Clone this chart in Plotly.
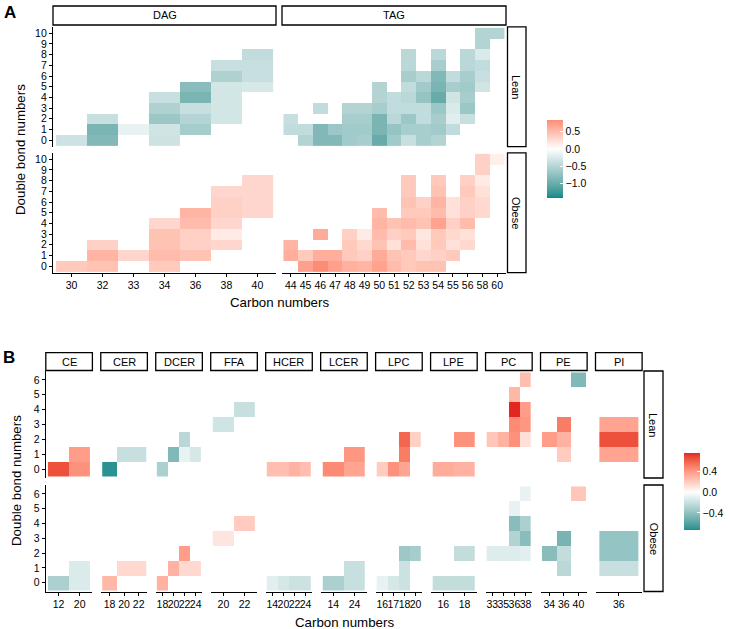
import plotly.graph_objects as go

W, H = 732, 629
FONT = "Liberation Sans, Arial, Helvetica, sans-serif"

# ---------------- Panel A data ----------------
A_FACETS = ["DAG", "TAG"]
A_ROWS = ["Lean", "Obese"]
DAG_CARBONS = [30, 32, 33, 34, 36, 38, 40]
TAG_CARBONS = [44, 45, 46, 47, 48, 49, 50, 51, 52, 53, 54, 55, 56, 58, 60]
A_DB_LEVELS = list(range(11))

dag_carbon = [30, 32, 32, 32, 33, 34, 34, 34, 34, 34, 36, 36, 36, 36, 36,
              38, 38, 38, 38, 38, 38, 40, 40, 40, 40]
dag_db = [0, 0, 1, 2, 1, 0, 1, 2, 3, 4, 1, 2, 3, 4, 5,
          2, 3, 4, 5, 6, 7, 5, 6, 7, 8]
dag_lean = [-0.34, -0.85, -0.90, -0.38, -0.15, -0.34, -0.32, -0.68, -0.55, -0.38,
            -0.61, -0.51, -0.38, -0.90, -0.80, -0.30, -0.30, -0.30, -0.30, -0.55,
            -0.38, -0.28, -0.38, -0.38, -0.42]
dag_obese = [0.40, 0.45, 0.55, 0.35, 0.30, 0.40, 0.50, 0.45, 0.45, 0.30,
             0.45, 0.35, 0.35, 0.50, 0.55, 0.30, 0.15, 0.30, 0.35, 0.35,
             0.30, 0.30, 0.30, 0.30, 0.30]

tag_carbon = [44, 44, 45, 45, 46, 46, 46, 47, 47, 48, 48, 48, 48, 49, 49, 49, 49,
              50, 50, 50, 50, 50, 50, 51, 51, 51, 51, 51,
              52, 52, 52, 52, 52, 52, 52, 52, 52,
              53, 53, 53, 53, 53, 53, 53,
              54, 54, 54, 54, 54, 54, 54, 54, 54,
              55, 55, 55, 55, 55, 55,
              56, 56, 56, 56, 56, 56, 56,
              58, 58, 58, 58, 58, 58, 60]
tag_db = [1, 2, 0, 1, 0, 1, 3, 0, 1, 0, 1, 2, 3, 0, 1, 2, 3,
          0, 1, 2, 3, 4, 5, 0, 1, 2, 3, 4,
          0, 1, 2, 3, 4, 5, 6, 7, 8,
          0, 1, 2, 3, 4, 5, 6,
          0, 1, 2, 3, 4, 5, 6, 7, 8,
          1, 2, 3, 4, 5, 6,
          2, 3, 4, 5, 6, 7, 8,
          5, 6, 7, 8, 9, 10, 10]
tag_lean = [-0.42, -0.38, -0.52, -0.42, -0.85, -0.85, -0.42, -0.85, -0.68,
            -0.64, -0.64, -0.60, -0.52, -0.60, -0.64, -0.60, -0.52,
            -1.02, -0.90, -0.90, -0.60, -0.52, -0.52,
            -0.64, -0.72, -0.47, -0.42, -0.42,
            -0.38, -0.60, -0.68, -0.42, -0.47, -0.42, -0.60, -0.47, -0.47,
            -0.60, -0.60, -0.42, -0.42, -0.72, -0.64, -0.47,
            -0.52, -0.64, -0.60, -0.68, -1.02, -0.90, -0.85, -0.60, -0.47,
            -0.42, -0.21, -0.26, -0.32, -0.60, -0.42,
            -0.38, -0.68, -0.60, -0.64, -0.60, -0.47, -0.47,
            -0.32, -0.38, -0.42, -0.26, -0.52, -0.52, -0.52]
tag_obese = [0.60, 0.55, 0.70, 0.40, 0.84, 0.60, 0.62, 0.70, 0.60,
             0.58, 0.40, 0.40, 0.35, 0.55, 0.35, 0.28, 0.15,
             0.68, 0.62, 0.45, 0.50, 0.55, 0.50,
             0.50, 0.45, 0.22, 0.35, 0.45,
             0.40, 0.40, 0.50, 0.40, 0.50, 0.40, 0.45, 0.40, 0.40,
             0.45, 0.30, 0.22, 0.18, 0.45, 0.40, 0.35,
             0.45, 0.35, 0.40, 0.40, 0.68, 0.50, 0.55, 0.45, 0.40,
             0.40, 0.22, 0.28, 0.35, 0.22, 0.22,
             0.28, 0.22, 0.50, 0.35, 0.35, 0.40, 0.35,
             0.28, 0.28, 0.22, 0.15, 0.35, 0.35, 0.12]
A_LIMITS = [-1.43, 0.84]
A_TICKS = [-1.0, -0.5, 0.0, 0.5]

# ---------------- Panel B data ----------------
B_CLASSES = ["CE", "CER", "DCER", "FFA", "HCER", "LCER", "LPC", "LPE", "PC", "PE", "PI"]
B_DB_LEVELS = list(range(7))
b_class = (["CE"] * 3 + ["CER"] * 3 + ["DCER"] * 5 + ["FFA"] * 2 + ["HCER"] * 4 +
           ["LCER"] * 3 + ["LPC"] * 6 + ["LPE"] * 3 + ["PC"] * 10 + ["PE"] * 5 + ["PI"] * 3)
b_carbon = [12, 20, 20,
            18, 20, 22,
            18, 20, 22, 22, 24,
            20, 22,
            14, 20, 22, 24,
            14, 24, 24,
            16, 17, 18, 18, 18, 20,
            16, 18, 18,
            33, 35, 36, 36, 36, 36, 38, 38, 38, 38,
            34, 36, 36, 36, 40,
            36, 36, 36]
b_db = [0, 0, 1,
        0, 1, 1,
        0, 1, 1, 2, 1,
        3, 4,
        0, 0, 0, 0,
        0, 0, 1,
        0, 0, 0, 1, 2, 2,
        0, 0, 2,
        2, 2, 2, 3, 4, 5, 2, 3, 4, 6,
        2, 1, 2, 3, 6,
        1, 2, 3]
b_lean = [0.65, 0.42, 0.38,
          -0.70, -0.20, -0.20,
          -0.30, -0.45, -0.08, -0.25, -0.15,
          -0.17, -0.20,
          0.25, 0.25, 0.30, 0.25,
          0.45, 0.35, 0.40,
          0.20, 0.42, 0.35, 0.50, 0.58, 0.18,
          0.32, 0.30, 0.42,
          0.22, 0.30, 0.42, 0.45, 0.75, 0.28, 0.12, 0.40, 0.38, 0.25,
          0.38, 0.20, 0.30, 0.50, -0.45,
          0.35, 0.65, 0.35]
b_obese = [-0.30, -0.13, -0.13,
           0.28, 0.15, 0.15,
           0.30, 0.30, 0.15, 0.38, 0.15,
           0.10, 0.20,
           -0.10, -0.15, -0.18, -0.18,
           -0.30, -0.20, -0.20,
           -0.08, -0.15, -0.18, -0.18, -0.35, -0.32,
           -0.22, -0.22, -0.22,
           -0.12, -0.12, -0.12, -0.28, -0.42, -0.08, -0.10, -0.42, -0.30, -0.08,
           -0.42, -0.25, -0.22, -0.48, 0.22,
           -0.20, -0.38, -0.38]
B_LIMITS = [-0.72, 0.75]
B_TICKS = [-0.4, 0.0, 0.4]

LOW, MID, HIGH = "#008B8B", "#FFFFFF", "#E3261F"


# ---------------- colour helpers (Lab interpolation like ggplot) ----------------
def _hex2rgb(h):
    h = h.lstrip("#")
    return [int(h[i:i + 2], 16) / 255 for i in (0, 2, 4)]


def _lin(c):
    return c / 12.92 if c <= 0.04045 else ((c + 0.055) / 1.055) ** 2.4


def _unlin(c):
    c = max(0.0, min(1.0, c))
    return 12.92 * c if c <= 0.0031308 else 1.055 * c ** (1 / 2.4) - 0.055


_WN = (0.95047, 1.0, 1.08883)


def _f(t):
    d = 6 / 29
    return t ** (1 / 3) if t > d ** 3 else t / (3 * d * d) + 4 / 29


def _finv(t):
    d = 6 / 29
    return t ** 3 if t > d else 3 * d * d * (t - 4 / 29)


def to_lab(h):
    r, g, b = [_lin(c) for c in _hex2rgb(h)]
    X = 0.4124564 * r + 0.3575761 * g + 0.1804375 * b
    Y = 0.2126729 * r + 0.7151522 * g + 0.0721750 * b
    Z = 0.0193339 * r + 0.1191920 * g + 0.9503041 * b
    fx, fy, fz = _f(X / _WN[0]), _f(Y / _WN[1]), _f(Z / _WN[2])
    return (116 * fy - 16, 500 * (fx - fy), 200 * (fy - fz))


def from_lab(L, a, b):
    fy = (L + 16) / 116
    fx = fy + a / 500
    fz = fy - b / 200
    X, Y, Z = _WN[0] * _finv(fx), _WN[1] * _finv(fy), _WN[2] * _finv(fz)
    r = 3.2404542 * X - 1.5371385 * Y - 0.4985314 * Z
    g = -0.9692660 * X + 1.8760108 * Y + 0.0415560 * Z
    bb = 0.0556434 * X - 0.2040259 * Y + 1.0572252 * Z
    return "#%02X%02X%02X" % tuple(round(_unlin(c) * 255) for c in (r, g, bb))


LAB = [to_lab(c) for c in (LOW, MID, HIGH)]


def ramp(s):
    s = max(0.0, min(1.0, s))
    if s <= 0.5:
        p, q, t = LAB[0], LAB[1], s / 0.5
    else:
        p, q, t = LAB[1], LAB[2], (s - 0.5) / 0.5
    return from_lab(*[p[i] + (q[i] - p[i]) * t for i in range(3)])


def build_scale(lims, n=61):
    lo, hi = lims
    ext = max(abs(lo), abs(hi))
    out = []
    for i in range(n):
        t = i / (n - 1)
        v = lo + t * (hi - lo)
        out.append([t, ramp(v / ext / 2 + 0.5)])
    return out


def PX(x):
    return x / W


def PY(y):
    return 1 - y / H


fig = go.Figure()
layout_axes = {}
counter = [0]


def add_panel(xcats, ycats, cx, cy, vals, xdom, ydom, cax, show_x, show_y):
    counter[0] += 1
    k = counter[0]
    xn = "x" if k == 1 else "x%d" % k
    yn = "y" if k == 1 else "y%d" % k
    xs = [str(c) for c in xcats]
    ys = [str(d) for d in ycats]
    z = [[None] * len(xs) for _ in ys]
    for c, d, v in zip(cx, cy, vals):
        z[ys.index(str(d))][xs.index(str(c))] = v
    fig.add_trace(go.Heatmap(x=xs, y=ys, z=z, coloraxis=cax, xaxis=xn, yaxis=yn,
                             hoverinfo="skip", xgap=0, ygap=0))
    tf = dict(size=10.5, color="black", family=FONT)
    layout_axes["xaxis" if k == 1 else "xaxis%d" % k] = dict(
        domain=[PX(xdom[0]), PX(xdom[1])], anchor=yn, type="category",
        categoryorder="array", categoryarray=xs, range=[-0.6, len(xs) - 0.4],
        showgrid=False, zeroline=False, showline=show_x, linecolor="black", linewidth=1.1,
        ticks="outside" if show_x else "", ticklen=3, tickwidth=1, tickcolor="black",
        showticklabels=show_x, tickmode="array", tickvals=xs, ticktext=xs, tickangle=0,
        tickfont=tf, fixedrange=True)
    layout_axes["yaxis" if k == 1 else "yaxis%d" % k] = dict(
        domain=[PY(ydom[1]), PY(ydom[0])], anchor=xn, type="category",
        categoryorder="array", categoryarray=ys, range=[-0.6, len(ys) - 0.4],
        showgrid=False, zeroline=False, showline=show_y, linecolor="black", linewidth=1.1,
        ticks="outside" if show_y else "", ticklen=3, tickwidth=1, tickcolor="black",
        showticklabels=show_y, tickmode="array", tickvals=ys, ticktext=ys, tickangle=0,
        tickfont=tf, fixedrange=True)


shapes, annots = [], []


def strip(x0, x1, y0, y1, text, angle=0):
    shapes.append(dict(type="rect", xref="paper", yref="paper", x0=PX(x0), x1=PX(x1),
                       y0=PY(y1), y1=PY(y0), line=dict(color="black", width=1.3),
                       fillcolor="white"))
    annots.append(dict(x=PX((x0 + x1) / 2), y=PY((y0 + y1) / 2), xref="paper", yref="paper",
                       text=text, showarrow=False, textangle=angle,
                       font=dict(size=11, color="black", family=FONT),
                       xanchor="center", yanchor="middle"))


# ---------------- Panel A ----------------
A_XDOM = {"DAG": (53, 276), "TAG": (282, 506)}
A_YDOM = {"Lean": (26.8, 146.6), "Obese": (152.8, 272.6)}
A_CARB = {"DAG": DAG_CARBONS, "TAG": TAG_CARBONS}
A_CELLS = {("DAG", "Lean"): (dag_carbon, dag_db, dag_lean),
           ("DAG", "Obese"): (dag_carbon, dag_db, dag_obese),
           ("TAG", "Lean"): (tag_carbon, tag_db, tag_lean),
           ("TAG", "Obese"): (tag_carbon, tag_db, tag_obese)}
for ri, row in enumerate(A_ROWS):
    for fi, fac in enumerate(A_FACETS):
        cx, cy, v = A_CELLS[(fac, row)]
        add_panel(A_CARB[fac], A_DB_LEVELS, cx, cy, v, A_XDOM[fac], A_YDOM[row],
                  "coloraxis", row == "Obese", fi == 0)
for fac in A_FACETS:
    strip(A_XDOM[fac][0], A_XDOM[fac][1], 6, 25, fac)
for row in A_ROWS:
    strip(507.5, 526, A_YDOM[row][0], A_YDOM[row][1], row, 90)

# ---------------- Panel B ----------------
B_YDOM = {"Lean": (371, 478), "Obese": (485, 591.5)}
for ri, row in enumerate(A_ROWS):
    vals_all = b_lean if row == "Lean" else b_obese
    for fi, cls in enumerate(B_CLASSES):
        idx = [i for i, c in enumerate(b_class) if c == cls]
        cx = [b_carbon[i] for i in idx]
        cy = [b_db[i] for i in idx]
        v = [vals_all[i] for i in idx]
        cats = sorted(set(cx))
        x0 = 45.8 + 54.97 * fi
        add_panel(cats, B_DB_LEVELS, cx, cy, v, (x0, x0 + 46.6), B_YDOM[row],
                  "coloraxis2", row == "Obese", fi == 0)
for fi, cls in enumerate(B_CLASSES):
    x0 = 45.8 + 54.97 * fi
    strip(x0, x0 + 46.6, 352.7, 370.5, cls)
for row in A_ROWS:
    strip(644, 663, B_YDOM[row][0], B_YDOM[row][1], row, 90)

# ---------------- titles ----------------
tfont = dict(size=13.3, color="black", family=FONT)
annots += [
    dict(x=PX(279.5), y=PY(302), text="Carbon numbers", font=tfont),
    dict(x=PX(344), y=PY(622), text="Carbon numbers", font=tfont),
    dict(x=PX(20), y=PY(150), text="Double bond numbers", font=tfont, textangle=-90),
    dict(x=PX(17), y=PY(481), text="Double bond numbers", font=tfont, textangle=-90),
]
for a in annots[-4:]:
    a.update(xref="paper", yref="paper", showarrow=False, xanchor="center", yanchor="middle")
annots += [
    dict(x=PX(2), y=PY(1), text="<b>A</b>", xref="paper", yref="paper", showarrow=False,
         xanchor="left", yanchor="top", font=dict(size=17, color="black", family=FONT)),
    dict(x=PX(1), y=PY(346), text="<b>B</b>", xref="paper", yref="paper", showarrow=False,
         xanchor="left", yanchor="top", font=dict(size=17, color="black", family=FONT)),
]


def cbar(x, ytop, ybot, ticks):
    return dict(x=PX(x), xanchor="left", y=PY(ytop), yanchor="top", len=(ybot - ytop) / H,
                lenmode="fraction", thickness=16, thicknessmode="pixels", outlinewidth=0,
                xpad=0, ypad=0, tickmode="array", tickvals=ticks,
                ticktext=[("%.1f" % t).replace("-", "\u2212") for t in ticks],
                ticks="inside", ticklen=3, tickcolor="white", tickwidth=1,
                tickfont=dict(size=10.5, color="black", family=FONT), title=dict(text=""))


fig.update_layout(
    width=W, height=H, margin=dict(l=0, r=0, t=0, b=0),
    paper_bgcolor="white", plot_bgcolor="white", showlegend=False,
    font=dict(family=FONT, color="black"),
    coloraxis=dict(colorscale=build_scale(A_LIMITS), cmin=A_LIMITS[0], cmax=A_LIMITS[1],
                   colorbar=cbar(547, 120, 198, A_TICKS)),
    coloraxis2=dict(colorscale=build_scale(B_LIMITS), cmin=B_LIMITS[0], cmax=B_LIMITS[1],
                    colorbar=cbar(684.3, 452.7, 530, B_TICKS)),
    shapes=shapes, annotations=annots, **layout_axes)

fig.write_html("out.html", config={"displayModeBar": False, "staticPlot": True},
               post_script="document.body.style.margin='0';document.body.style.overflow='hidden';")
